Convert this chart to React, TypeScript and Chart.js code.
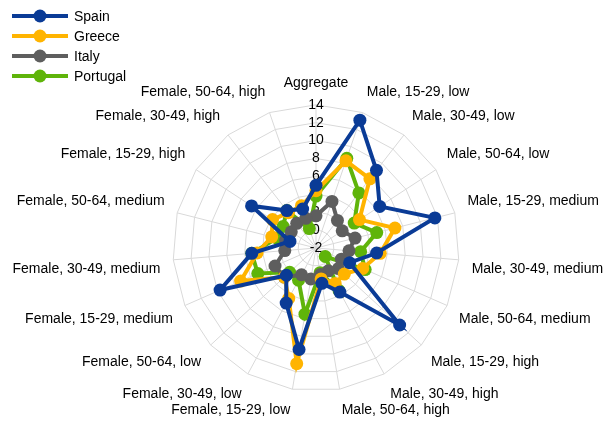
import React, { useEffect, useRef } from 'react';
import Chart from 'chart.js/auto';

const categories = [
    'Aggregate',
    'Male, 15-29, low', 'Male, 30-49, low', 'Male, 50-64, low',
    'Male, 15-29, medium', 'Male, 30-49, medium', 'Male, 50-64, medium',
    'Male, 15-29, high', 'Male, 30-49, high', 'Male, 50-64, high',
    'Female, 15-29, low', 'Female, 30-49, low', 'Female, 50-64, low',
    'Female, 15-29, medium', 'Female, 30-49, medium', 'Female, 50-64, medium',
    'Female, 15-29, high', 'Female, 30-49, high', 'Female, 50-64, high',
];

const spain = [5.0, 13.1, 9.0, 6.5, 11.7, 4.8, 2.1, 10.7, 3.6, 2.0, 9.5, 5.0, 2.5, 9.7, 5.2, 1.0, 6.6, 3.3, 2.6];
const greece = [4.4, 8.3, 7.8, 3.8, 7.1, 5.2, 3.7, 2.3, 2.5, 1.5, 11.1, 4.4, 2.8, 7.2, 4.6, 3.1, 3.8, 3.0, 3.0];
const italy = [1.6, 3.5, 1.9, 1.5, 2.5, 1.7, 1.1, 1.4, 0.9, 1.0, 1.5, 1.4, 2.8, 3.0, 1.5, 1.5, 1.3, 1.5, 1.5];
const portugal = [3.8, 8.6, 5.8, 3.1, 5.0, 3.0, 4.0, -0.6, 3.4, 0.8, 5.5, 2.1, 2.0, 5.1, 5.2, 2.5, 2.4, 3.3, 0.3];

const series = [
    { label: 'Spain', data: spain, color: '#0a3b96' },
    { label: 'Greece', data: greece, color: '#ffb400' },
    { label: 'Italy', data: italy, color: '#5e5e5e' },
    { label: 'Portugal', data: portugal, color: '#5fb40a' },
];

const font = 'Liberation Sans, Arial, sans-serif';

export default function App() {
    const canvasRef = useRef<HTMLCanvasElement>(null);

    useEffect(() => {
        document.body.style.margin = '0';
        if (!canvasRef.current) return;
        const chart = new Chart(canvasRef.current, {
            type: 'radar',
            data: {
                labels: categories,
                datasets: series.map((s) => ({
                    label: s.label,
                    data: s.data,
                    borderColor: s.color,
                    backgroundColor: s.color,
                    borderWidth: 4,
                    pointRadius: 6.5,
                    pointBackgroundColor: s.color,
                    pointBorderWidth: 0,
                    fill: false,
                })),
            },
            options: {
                animation: false,
                responsive: false,
                layout: { padding: { top: 74, bottom: -28, left: 4, right: -14 } },
                plugins: { legend: { display: false }, tooltip: { enabled: false } },
                scales: {
                    r: {
                        min: -2,
                        max: 14,
                        ticks: {
                            stepSize: 2,
                            showLabelBackdrop: false,
                            color: '#000',
                            font: { family: font, size: 14 },
                        },
                        grid: { color: '#d9d9d9' },
                        angleLines: { color: '#d9d9d9' },
                        pointLabels: { color: '#000', font: { family: font, size: 14 }, padding: 4 },
                    },
                },
            },
        });
        return () => chart.destroy();
    }, []);

    return (
        <div style={{ position: 'relative', width: 612, height: 421, fontFamily: font }}>
            <canvas ref={canvasRef} width={612} height={421} />
            <div style={{ position: 'absolute', left: 8, top: 6 }}>
                {series.map((s) => (
                    <div key={s.label} style={{ display: 'flex', alignItems: 'center', height: 20, fontSize: 14 }}>
                        <svg width={64} height={14} style={{ marginRight: 2 }}>
                            <line x1={4} y1={7} x2={60} y2={7} stroke={s.color} strokeWidth={4} />
                            <circle cx={32} cy={7} r={6.5} fill={s.color} />
                        </svg>
                        {s.label}
                    </div>
                ))}
            </div>
        </div>
    );
}
